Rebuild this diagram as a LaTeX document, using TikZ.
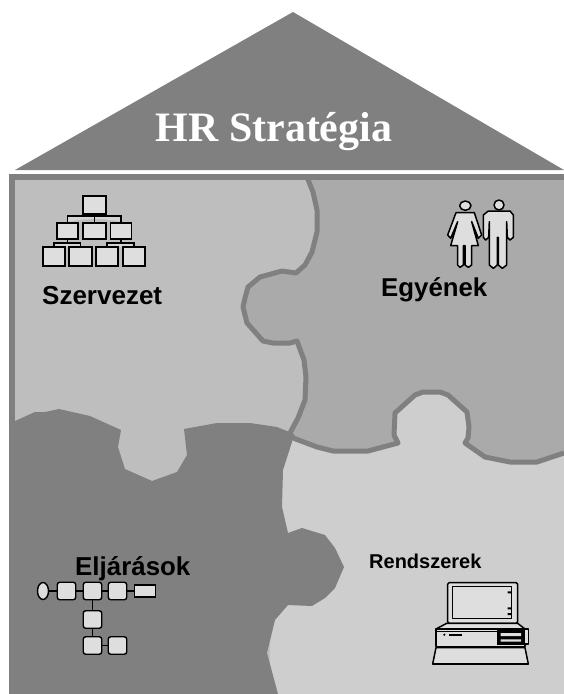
\documentclass[tikz,border=0pt]{standalone}
\usepackage{fontspec}
\usetikzlibrary{shapes.geometric}
\setmainfont{Liberation Serif}
\setsansfont{Liberation Sans}
\definecolor{roofgray}{HTML}{808080}
\definecolor{tlgray}{HTML}{BEBEBE}
\definecolor{trgray}{HTML}{AAAAAA}
\definecolor{brgray}{HTML}{CECECE}
\definecolor{iconfill}{HTML}{DEDEDE}
\tikzset{
  iconbox/.style={draw=black,fill=iconfill,line width=1.4pt,inner sep=0pt,outer sep=0pt,rectangle},
  flowbox/.style={iconbox,rounded corners=2.5pt,minimum width=18.5pt,minimum height=17.5pt},
  wire/.style={draw=black,line width=1.3pt},
  seam/.style={draw=roofgray,line width=5pt,line join=round},
  figure outline/.style={draw=black,fill=iconfill,line width=1.5pt,line join=round},
  label/.style={font=\sffamily\bfseries,text=black,inner sep=0pt,anchor=base west}
}
\begin{document}
\begin{tikzpicture}[x=1pt,y=-1pt]
\useasboundingbox (0,0) rectangle (564,694);
\fill[white] (0,0) rectangle (564,694);
% roof
\fill[roofgray] (293,12) -- (564,170) -- (15,170) -- cycle;
\node[font=\bfseries,text=white,inner sep=0pt,anchor=base] (title) at (274,141) {\fontsize{41.9}{46}\selectfont HR Stratégia};
% regions
\fill[tlgray] (10,176) rectangle (320,694);
\fill[trgray] (307,176) -- (564,176) -- (564,460) -- (290,460) -- (290,433) -- (298,418) -- (305,400) -- (306,377) -- (304,360) -- (297,341) -- (290,343) -- (273,343) -- (263,341) -- (247,323) -- (243,307) -- (245,298) -- (248,287) -- (260,277) -- (282,271) -- (296,273) -- (305,265) -- (312,252) -- (317,232) -- (317,210) -- (313,192) -- cycle;
\fill[brgray] (290,433) -- (293,438) -- (317,447) -- (333,451) -- (368,451) -- (383,447) -- (398,443) -- (394,435) -- (395,413) -- (415,395) -- (423,392) -- (440,392) -- (448,395) -- (467,412) -- (469,427) -- (468,438) -- (465,443) -- (485,457) -- (510,462) -- (537,462) -- (564,453) -- (564,694) -- (270,694) -- (270,433) -- cycle;
\fill[roofgray] (9,421) -- (15,421) -- (35,412) -- (45,412) -- (59,409) -- (90,416) -- (121,430) -- (118,447) -- (125,469) -- (152,481) -- (177,472) -- (187,455) -- (184,429) -- (217,423) -- (250,423) -- (277,427) -- (292,433) -- (292,442) -- (283,470) -- (282,507) -- (288,533) -- (302,528) -- (325,535) -- (335,548) -- (344,567) -- (335,588) -- (325,598) -- (312,606) -- (288,605) -- (275,620) -- (267,653) -- (278,694) -- (9,694) -- cycle;
% seams
\draw[seam] (307,177) -- (313,192) -- (317,210) -- (317,232) -- (312,252) -- (305,265) -- (296,273) -- (282,271) -- (260,277) -- (248,287) -- (245,298) -- (243,307) -- (247,323) -- (263,341) -- (273,343) -- (290,343) -- (297,341) -- (304,360) -- (306,377) -- (305,400) -- (298,418) -- (290,433);
\draw[seam] (290,433) -- (293,438) -- (317,447) -- (333,451) -- (368,451) -- (383,447) -- (398,443) -- (394,435) -- (395,413) -- (415,395) -- (423,392) -- (440,392) -- (448,395) -- (467,412) -- (469,427) -- (468,438) -- (465,443) -- (485,457) -- (510,462) -- (537,462) -- (564,453);
\fill[roofgray] (9,174) rectangle (564,179.5);
\fill[roofgray] (9,174) rectangle (14.5,430);
% labels
\node[label] (szervezet) at (42,304) {\fontsize{26}{30}\selectfont Szervezet};
\node[label] (egyenek) at (381,296) {\fontsize{25.8}{30}\selectfont Egyének};
\node[label] (eljarasok) at (75,575) {\fontsize{25.9}{30}\selectfont Eljárások};
\node[label] (rendszerek) at (369,568) {\fontsize{20}{24}\selectfont Rendszerek};
% organisation chart
\fill[iconfill!70!tlgray] (68,216) -- (121,216) -- (121,222) .. controls (108,218) and (81,218) .. (68,222) -- cycle;
\fill[iconfill!70!tlgray] (54,243) -- (80,243) -- (80,247) -- (54,247) -- cycle;
\fill[iconfill!70!tlgray] (107,243) -- (134,243) -- (134,247) -- (107,247) -- cycle;
\node[iconbox,minimum width=23pt,minimum height=18pt] (o0) at (94.5,205) {};
\node[iconbox,minimum width=21pt,minimum height=16pt] (o1) at (67.5,231) {};
\node[iconbox,minimum width=23pt,minimum height=16pt] (o2) at (94.5,231) {};
\node[iconbox,minimum width=21pt,minimum height=16pt] (o3) at (121,231) {};
\node[iconbox,minimum width=22pt,minimum height=19pt] (o4) at (54,256.5) {};
\node[iconbox,minimum width=23pt,minimum height=19pt] (o5) at (80.5,256.5) {};
\node[iconbox,minimum width=22pt,minimum height=19pt] (o6) at (107,256.5) {};
\node[iconbox,minimum width=22pt,minimum height=19pt] (o7) at (134,256.5) {};
\draw[wire] (o0.south) -- (o2.north);
\draw[wire] (o1.north) |- ([yshift=-2pt]o0.south) -| (o3.north);
\draw[wire] (o1.south) -- ([yshift=-4pt]o1.south);
\draw[wire] (o4.north) |- ([yshift=-4pt]o1.south) -| (o5.north);
\draw[wire] (o3.south) -- ([yshift=-4pt]o3.south);
\draw[wire] (o6.north) |- ([yshift=-4pt]o3.south) -| (o7.north);
% people
\begin{scope}[shift={(420,180)},scale=1/3]
\draw[figure outline] (136,77) ellipse (17 and 14);
\draw[figure outline] (237,75) ellipse (15 and 15);
\draw[figure outline] (108,98) -- (163,98) -- (185,165) -- (175,175) -- (155,125) -- (175,197) -- (155,197) -- (155,255) -- (145,262) -- (135,255) -- (135,197) -- (130,197) -- (130,255) -- (120,262) -- (113,255) -- (113,197) -- (92,197) -- (113,125) -- (92,175) -- (83,165) -- cycle;
\draw[figure outline] (205,93) -- (270,93) -- (280,105) -- (280,172) -- (270,180) -- (262,172) -- (260,125) -- (260,255) -- (247,265) -- (235,255) -- (235,172) -- (232,172) -- (232,255) -- (220,265) -- (208,255) -- (208,125) -- (206,172) -- (197,180) -- (190,172) -- (190,105) -- cycle;
\end{scope}
% process chart
\node[iconbox,ellipse,minimum width=11pt,minimum height=17pt] (f0) at (43,591) {};
\node[flowbox] (f1) at (66.5,591) {};
\node[flowbox] (f2) at (92.5,591) {};
\node[flowbox] (f3) at (117.5,591) {};
\node[iconbox,minimum width=21pt,minimum height=12pt] (f4) at (145,591) {};
\node[flowbox] (f5) at (92.5,619.5) {};
\node[flowbox] (f6) at (92.5,645.5) {};
\node[flowbox] (f7) at (117.5,645.5) {};
\draw[wire] (f0) -- (f1);
\draw[wire] (f1) -- (f2);
\draw[wire] (f2) -- (f3);
\draw[wire] (f3) -- (f4);
\draw[wire] (f2) -- (f5);
\draw[wire] (f5) -- (f6);
\draw[wire] (f6) -- (f7);
% computer
\begin{scope}[shift={(410,560)},scale=1/3]
\draw[figure outline,rounded corners=1.5pt] (113,68) rectangle (323,190);
\draw[figure outline] (128,80) rectangle (305,175);
\fill[black] (293,94) rectangle (305,100) (293,142) rectangle (305,148) (293,159) rectangle (305,165);
\fill[black] (146,190) rectangle (160,201) (278,190) rectangle (292,201);
\draw[figure outline] (78,207) -- (110,190) -- (323,190) -- (345,207) -- cycle;
\draw[figure outline] (78,207) rectangle (345,260);
\draw[black,line width=1pt] (78,214) -- (345,214);
\fill[black] (103,224) circle (3.5);
\fill[black] (118,222) rectangle (156,228);
\fill[black] (260,205) rectangle (345,255);
\draw[figure outline] (345,207) -- (355,207) -- (355,252) -- (345,252);
\fill[iconfill] (272,219) rectangle (333,228) (272,238) rectangle (333,245);
\draw[figure outline] (78,263) -- (345,263) -- (355,312) -- (68,312) -- cycle;
\draw[black,line width=2pt] (68,313) -- (355,313);
\end{scope}
\end{tikzpicture}
\end{document}
